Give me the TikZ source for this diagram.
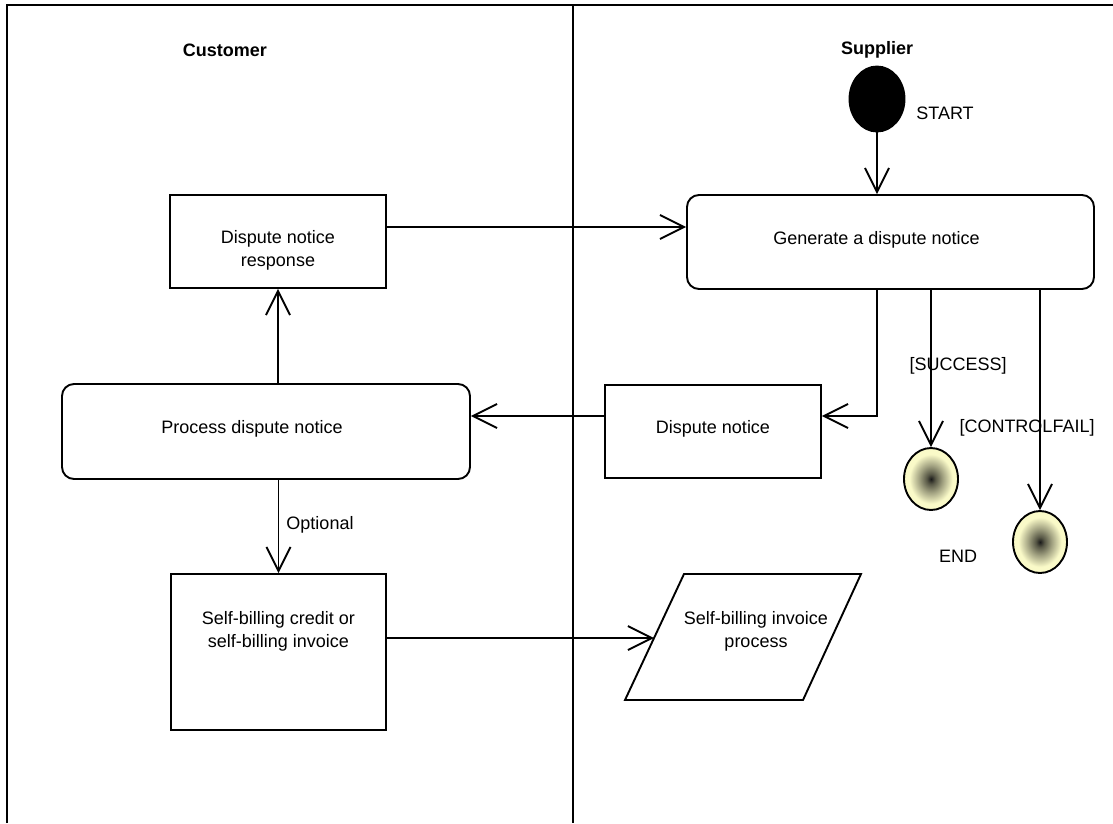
\documentclass[tikz,border=0pt]{standalone}
\usepackage{fontspec}
\setmainfont{Liberation Sans}
\usetikzlibrary{arrows.meta,shapes.geometric}
\definecolor{endyel}{RGB}{250,250,200}
\pgfdeclareradialshading{endshade}{\pgfpoint{0bp}{0bp}}{color(0bp)=(black!90);color(4bp)=(black!65!endyel);color(11bp)=(endyel!65!black);color(20bp)=(endyel);color(50bp)=(endyel)}
\tikzset{
  base/.style={line width=1.9pt},
  arr/.style={base,-{Straight Barb[length=24pt,width=24pt,line width=1.9pt]}},
  txt/.style={font=\fontsize{18}{23}\selectfont,align=center,inner sep=0pt},
  hdr/.style={font=\fontsize{18}{23}\selectfont\bfseries,inner sep=0pt},
  actbox/.style={base,draw,rectangle,inner sep=0pt},
  actround/.style={base,draw,rectangle,rounded corners=12pt,inner sep=0pt},
  endstate/.style={base,draw,ellipse,minimum width=54pt,minimum height=62pt,inner sep=0pt,shading=endshade},
  startstate/.style={base,draw,fill=black,ellipse,minimum width=55pt,minimum height=65pt,inner sep=0pt}
}
\begin{document}
\begin{tikzpicture}[x=1pt,y=-1pt]
\useasboundingbox (0,0) rectangle (1113,823);
% swimlane frame
\draw[base] (7,823) -- (7,5) -- (1113,5);
\draw[base] (573,5) -- (573,823);
\node[hdr] (cust) at (225,50) {Customer};
\node[hdr] (supp) at (877,50) {Supplier};
% nodes
\node[startstate] (start) at (877,99) {};
\node[txt] (startlbl) at (945,113) {START};
\node[actround,minimum width=407pt,minimum height=94pt,
  label={[txt,xshift=-14pt,yshift=2pt]center:Generate a dispute notice}] (gen) at (890.5,242) {};
\node[actbox,minimum width=216pt,minimum height=93pt,
  label={[txt,yshift=-9pt]center:{Dispute notice\\response}}] (resp) at (278,241.5) {};
\node[actround,minimum width=408pt,minimum height=95pt,
  label={[txt,xshift=-14pt,yshift=3pt]center:Process dispute notice}] (proc) at (266,431.5) {};
\node[actbox,minimum width=216pt,minimum height=93pt,
  label={[txt,yshift=3pt]center:Dispute notice}] (dn) at (713,431.5) {};
\node[actbox,minimum width=215pt,minimum height=156pt,
  label={[txt,yshift=21pt]center:{Self-billing credit or\\self-billing invoice}}] (cred) at (278.5,652) {};
% parallelogram
\draw[base,line join=miter] (684,574) coordinate (pTL) -- (861,574) coordinate (pTR) -- (803,700) coordinate (pBR) -- (625,700) coordinate (pBL) -- cycle;
\node[txt] (para) at (756,631) {Self-billing invoice\\process};
\coordinate (paraW) at (654,638);
% end states
\node[endstate] (end1) at (931,479) {};
\node[endstate] (end2) at (1040,542) {};
\node[txt] (endlbl) at (958,556) {END};
% connectors
\draw[arr] (start.south) -- (start.south |- gen.north);
\draw[arr] (resp.east |- 0,227) -- (gen.west |- 0,227);
\draw[arr] (gen.south -| 877,0) |- (dn.east |- 0,416);
\draw[arr] (dn.west |- 0,416) -- (proc.east |- 0,416);
\draw[arr] (proc.north -| resp.south) -- (resp.south);
\draw[arr] (proc.south -| cred.north) -- (cred.north);
\node[txt] (opt) at (320,525) {Optional};
\draw[arr] (cred.east |- paraW) -- (paraW);
\draw[arr] (gen.south -| end1.north) -- (end1.north);
\draw[arr] (gen.south -| end2.north) -- (end2.north);
\node[txt] (succ) at (958,366) {[SUCCESS]};
\node[txt] (cfail) at (1027,428) {[CONTROLFAIL]};
\end{tikzpicture}
\end{document}
